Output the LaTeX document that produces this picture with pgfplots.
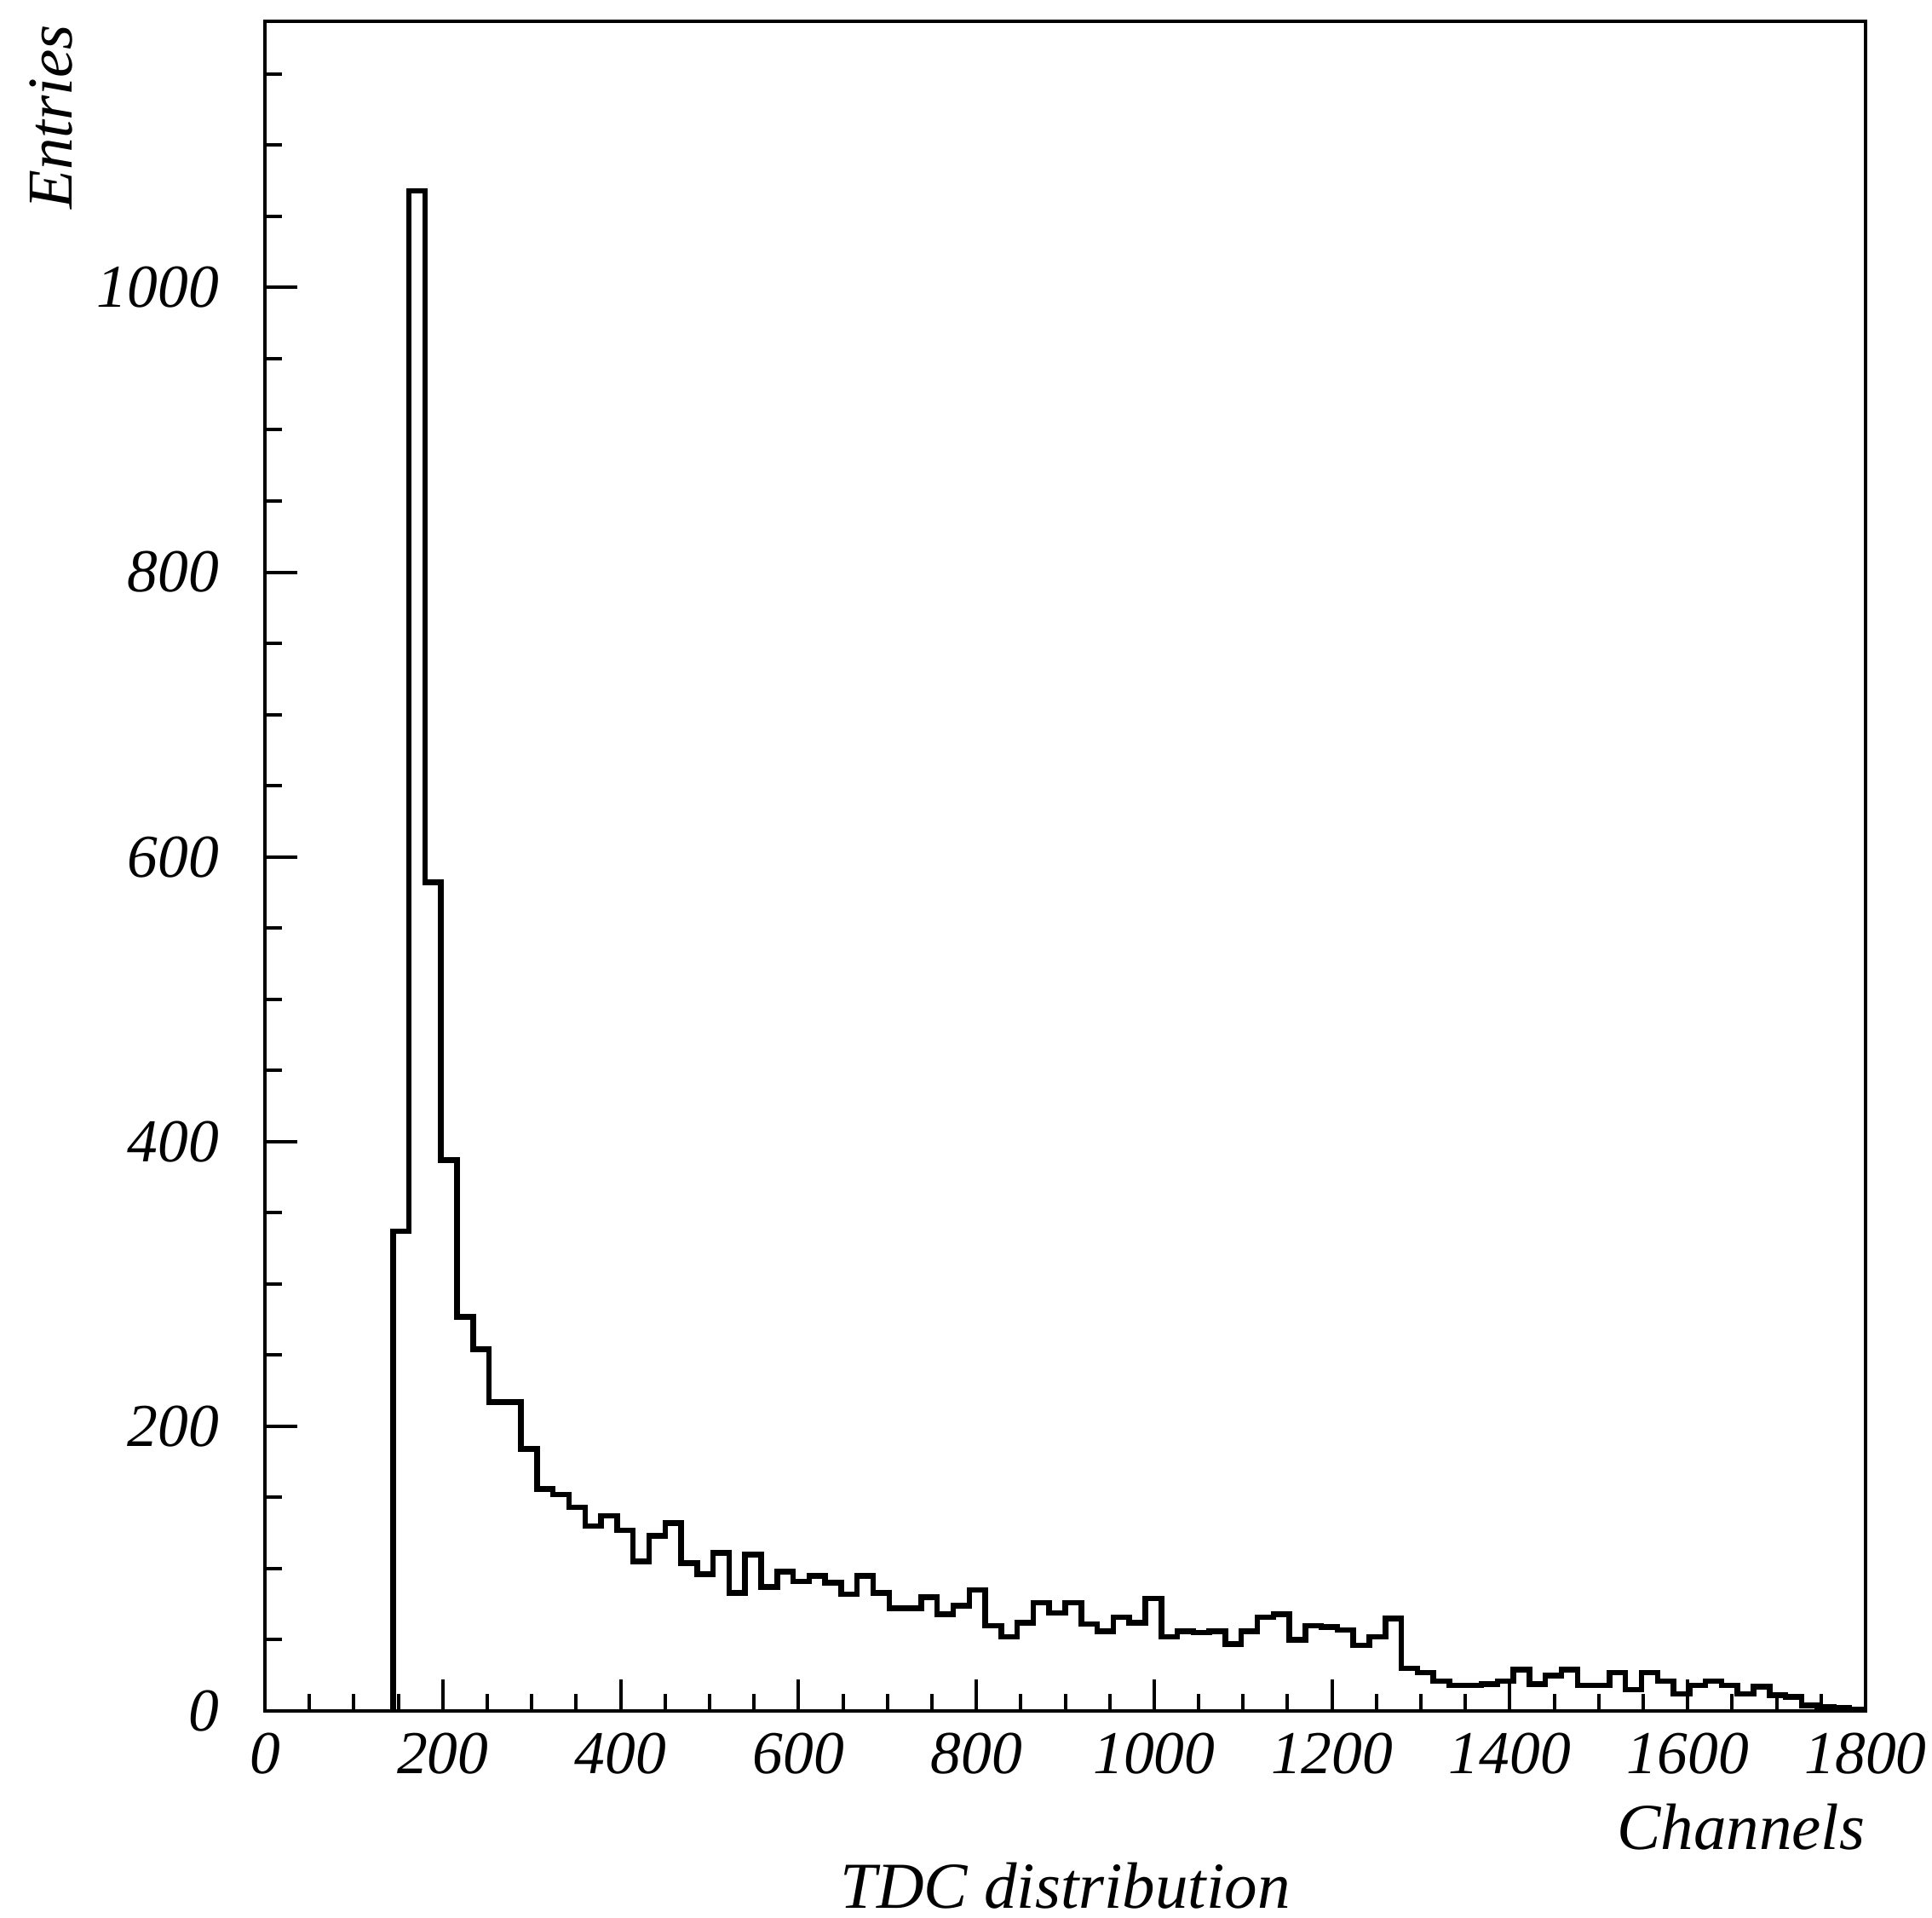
\documentclass[border=0pt]{standalone}
\usepackage{fontspec}
\setmainfont{Liberation Serif}
\usepackage{pgfplots}
\pgfplotsset{compat=1.18}
\begin{document}
\begin{tikzpicture}
\begin{axis}[
  scale only axis, width=375.8pt, height=396.6pt,
  xmin=0, xmax=1800, ymin=0, ymax=1187,
  xtick={0,200,...,1800}, ytick={0,200,...,1000},
  minor xtick={50,100,...,1750},
  minor ytick={50,100,...,1150},
  xtick pos=left, ytick pos=left, tick align=inside,
  major tick length=7.5pt, minor tick length=4pt,
  every tick/.style={black, line width=0.8pt},
  axis line style={line width=0.9pt},
  /pgf/number format/assume math mode=true,
  /pgf/number format/set thousands separator={},
  ticklabel style={font=\itshape\fontsize{14.3}{14.3}\selectfont},
  xticklabel style={anchor=north, inner sep=0pt, yshift=-5pt},
  yticklabel style={anchor=east, inner sep=0pt, xshift=-10.6pt},
]
\addplot[const plot mark left, line width=1.3pt, black, mark=none] coordinates {
(144,0) (144,337) (162,1068) (180,582) (198,387) (216,277) (234,254) (252,217) (270,217)
(288,184) (306,156) (324,152) (342,143) (360,130) (378,137) (396,127) (414,105)
(432,123) (450,132) (468,104) (486,96) (504,111) (522,83) (540,110) (558,87)
(576,98) (594,91) (612,95) (630,90) (648,82) (666,95) (684,83) (702,72) (720,72)
(738,80) (756,68) (774,74) (792,85) (810,60) (828,52) (846,62) (864,76) (882,69)
(900,76) (918,61) (936,56) (954,66) (972,62) (990,79) (1008,52) (1026,56) (1044,55)
(1062,56) (1080,47) (1098,56) (1116,66) (1134,68) (1152,50) (1170,60) (1188,59)
(1206,57) (1224,46) (1242,52) (1260,65) (1278,30) (1296,27) (1314,21) (1332,18)
(1350,18) (1368,19) (1386,21) (1404,29) (1422,19) (1440,25) (1458,29) (1476,18)
(1494,18) (1512,27) (1530,15) (1548,27) (1566,21) (1584,12) (1602,18) (1620,21)
(1638,18) (1656,12) (1674,17) (1692,11) (1710,10) (1728,4) (1746,3) (1764,2)
(1782,1) (1800,1)
};
\coordinate (ll) at (rel axis cs:0,0);
\coordinate (ur) at (rel axis cs:1,1);
\end{axis}
\node[rotate=90, anchor=base east, inner sep=0pt, font=\itshape\fontsize{15}{15}\selectfont]
  at ([xshift=-45.2pt,yshift=-0.6pt]ll |- ur) {Entries};
\node[anchor=base east, inner sep=0pt, font=\itshape\fontsize{15.4}{15.4}\selectfont]
  at ([yshift=-32.4pt]ur |- ll) {Channels};
\path (ll) -- (ll -| ur) coordinate[pos=0.5] (mid);
\node[anchor=base, inner sep=0pt, font=\itshape\fontsize{15.4}{15.4}\selectfont]
  at ([yshift=-46.2pt]mid) {TDC distribution};
\pgfresetboundingbox
\path ([xshift=-62.2pt,yshift=-48.4pt]ll) rectangle ([xshift=15.6pt,yshift=5pt]ur);
\end{tikzpicture}
\end{document}
